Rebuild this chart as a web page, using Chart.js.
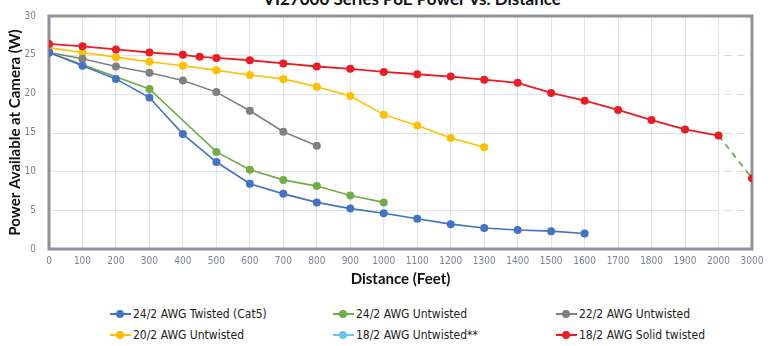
<!DOCTYPE html>
<html>
<head>
<meta charset="utf-8">
<script src="https://cdn.jsdelivr.net/npm/chart.js@4"></script>
<style>
  body { margin: 0; background: #fff; width: 778px; height: 346px; overflow: hidden; position: relative; }
  #wrap { position: absolute; left: 0; top: 0; width: 778px; height: 300px; }
  #title { position: absolute; top: -10px; left: 0; width: 824px; text-align: center;
    font: bold 17px Lato, sans-serif; line-height: 18px; color: #111; }
  #legend { position: absolute; left: 0; top: 306px; width: 778px; }
  .item { position: absolute; font: 12px 'DejaVu Sans Condensed', sans-serif; color: #222; line-height: 16px; }
  .item .mk { display: inline-block; position: relative; width: 21px; height: 16px; vertical-align: top; margin-right: 2px; }
  .item .mk i { position: absolute; left: 0; right: 0; top: 7px; height: 2px; }
  .item .mk b { position: absolute; left: 6px; top: 4px; width: 8px; height: 8px; border-radius: 50%; }
</style>
</head>
<body>
<div id="title">VI27000 Series PoE Power Vs. Distance</div>
<div id="wrap"><canvas id="chart" width="778" height="300"></canvas></div>
<div id="legend"></div>
<script>
// tick labels for the x axis (last step jumps from 2000 to 3000)
const xTicks = [0, 100, 200, 300, 400, 500, 600, 700, 800, 900, 1000, 1100, 1200, 1300, 1400, 1500, 1600, 1700, 1800, 1900, 2000, 3000];
const yTicks = [0, 5, 10, 15, 20, 25, 30];

const seriesNames = [
  "24/2 AWG Twisted (Cat5)", "24/2 AWG Untwisted", "22/2 AWG Untwisted",
  "20/2 AWG Untwisted", "18/2 AWG Untwisted**", "18/2 AWG Solid twisted"
];
const seriesColors = ["#4472c4", "#70ad47", "#808080", "#ffc000", "#6cc3ee", "#ec1c24"];

// distance in feet / watts at camera
const cat5Dist = [0, 100, 200, 300, 400, 500, 600, 700, 800, 900, 1000, 1100, 1200, 1300, 1400, 1500, 1600];
const cat5Watts = [25.3, 23.6, 21.9, 19.5, 14.8, 11.2, 8.4, 7.1, 6.0, 5.2, 4.6, 3.9, 3.2, 2.7, 2.45, 2.3, 2.0];

const awg24Dist = [0, 300, 500, 600, 700, 800, 900, 1000];
const awg24Watts = [25.3, 20.6, 12.5, 10.2, 8.9, 8.1, 6.9, 6.0];

const awg22Dist = [0, 100, 200, 300, 400, 500, 600, 700, 800];
const awg22Watts = [25.3, 24.5, 23.5, 22.7, 21.7, 20.2, 17.8, 15.1, 13.3];

const awg20Dist = [0, 100, 200, 300, 400, 500, 600, 700, 800, 900, 1000, 1100, 1200, 1300];
const awg20Watts = [25.9, 25.3, 24.7, 24.1, 23.6, 23.0, 22.4, 21.9, 20.9, 19.7, 17.3, 15.9, 14.3, 13.1];

const awg18Dist = [];
const awg18Watts = [];

const solidDist = [0, 100, 200, 300, 400, 450, 500, 600, 700, 800, 900, 1000, 1100, 1200, 1300, 1400, 1500, 1600, 1700, 1800, 1900, 2000, 3000];
const solidWatts = [26.4, 26.1, 25.7, 25.3, 25.0, 24.75, 24.6, 24.3, 23.9, 23.5, 23.2, 22.8, 22.5, 22.2, 21.8, 21.4, 20.1, 19.1, 17.9, 16.6, 15.4, 14.6, 9.1];

// the axis is evenly spaced up to 2000, then one step to 3000
function axisPos(d) {
  return d <= 2000 ? d : 2000 + (d - 2000) / 10;
}
function toPoints(dist, watts) {
  return dist.map((d, i) => ({ x: axisPos(d), y: watts[i] }));
}

const allDist = [cat5Dist, awg24Dist, awg22Dist, awg20Dist, awg18Dist, solidDist];
const allWatts = [cat5Watts, awg24Watts, awg22Watts, awg20Watts, awg18Watts, solidWatts];

const datasets = seriesNames.map((name, i) => ({
  label: name,
  data: toPoints(allDist[i], allWatts[i]),
  borderColor: seriesColors[i],
  backgroundColor: seriesColors[i],
  borderWidth: 1.6,
  pointRadius: 4,
  pointHoverRadius: 4,
  pointBorderWidth: 0,
  tension: 0,
  order: i === 5 ? 0 : i + 1
}));

// last solid-twisted segment (2000 -> 3000) is a green dashed line
const lastIdx = solidDist.length - 1;
datasets[5].segment = {
  borderColor: c => c.p1DataIndex === lastIdx ? "#70ad47" : undefined,
  borderDash: c => c.p1DataIndex === lastIdx ? [6, 5] : undefined
};
datasets[5].borderWidth = 1.8;

const tickFont = { family: "'DejaVu Sans Condensed', sans-serif", size: 10 };
const tickColor = "#7a8292";

// horizontal grid (dashed past 2000) and heavy frame around the plot
const framePlugin = {
  id: "frame",
  beforeDatasetsDraw(chart) {
    const { ctx, chartArea: a, scales } = chart;
    const xBreak = scales.x.getPixelForValue(2000);
    ctx.save();
    ctx.lineWidth = 1;
    yTicks.forEach(v => {
      const y = Math.round(scales.y.getPixelForValue(v)) + 0.5;
      ctx.strokeStyle = "#dfe4ec";
      ctx.setLineDash([]);
      ctx.beginPath(); ctx.moveTo(a.left, y); ctx.lineTo(xBreak, y); ctx.stroke();
      ctx.strokeStyle = "#d2d4d8";
      ctx.setLineDash([7, 6]);
      ctx.beginPath(); ctx.moveTo(xBreak + 6, y); ctx.lineTo(a.right, y); ctx.stroke();
    });
    ctx.setLineDash([]);
    ctx.strokeStyle = "#8d929d";
    ctx.lineWidth = 3;
    ctx.strokeRect(a.left, a.top, a.right - a.left, a.bottom - a.top);
    ctx.restore();
  }
};

new Chart(document.getElementById("chart").getContext("2d"), {
  type: "line",
  data: { datasets },
  plugins: [framePlugin],
  options: {
    responsive: false,
    animation: false,
    layout: { padding: { left: 0, top: 16, right: 26, bottom: 0 } },
    plugins: { legend: { display: false }, tooltip: { enabled: false } },
    scales: {
      x: {
        type: "linear",
        min: 0,
        max: 2100,
        afterFit: s => { s.height = 51; },
        afterBuildTicks: s => { s.ticks = xTicks.map(d => ({ value: axisPos(d) })); },
        ticks: {
          autoSkip: false, maxRotation: 0, padding: 6, color: tickColor, font: tickFont,
          callback: v => (v > 2000 ? 3000 : v)
        },
        grid: { color: "#dfe4ec", drawTicks: false },
        border: { display: false },
        title: {
          display: true, text: "Distance (Feet)", color: "#111",
          font: { family: "Lato, sans-serif", size: 15, weight: "bold" },
          padding: { top: 0, bottom: 12 }
        }
      },
      y: {
        min: 0,
        max: 30,
        afterFit: s => { s.width = 49; },
        afterBuildTicks: s => { s.ticks = yTicks.map(v => ({ value: v })); },
        ticks: { padding: 5, color: tickColor, font: tickFont },
        grid: { display: false },
        border: { display: false },
        title: {
          display: true, text: "Power Available at Camera (W)", color: "#111",
          font: { family: "Lato, sans-serif", size: 15, weight: "bold" },
          padding: { top: 6, bottom: 0 }
        }
      }
    }
  }
});

// legend in three columns, two rows
const legendCols = [110, 333, 556];
const legend = document.getElementById("legend");
seriesNames.forEach((name, i) => {
  const el = document.createElement("div");
  el.className = "item";
  el.style.left = legendCols[i % 3] + "px";
  el.style.top = (Math.floor(i / 3) * 21) + "px";
  el.innerHTML = '<span class="mk"><i style="background:' + seriesColors[i] + '"></i><b style="background:' +
    seriesColors[i] + '"></b></span>' + name;
  legend.appendChild(el);
});
</script>
</body>
</html>
